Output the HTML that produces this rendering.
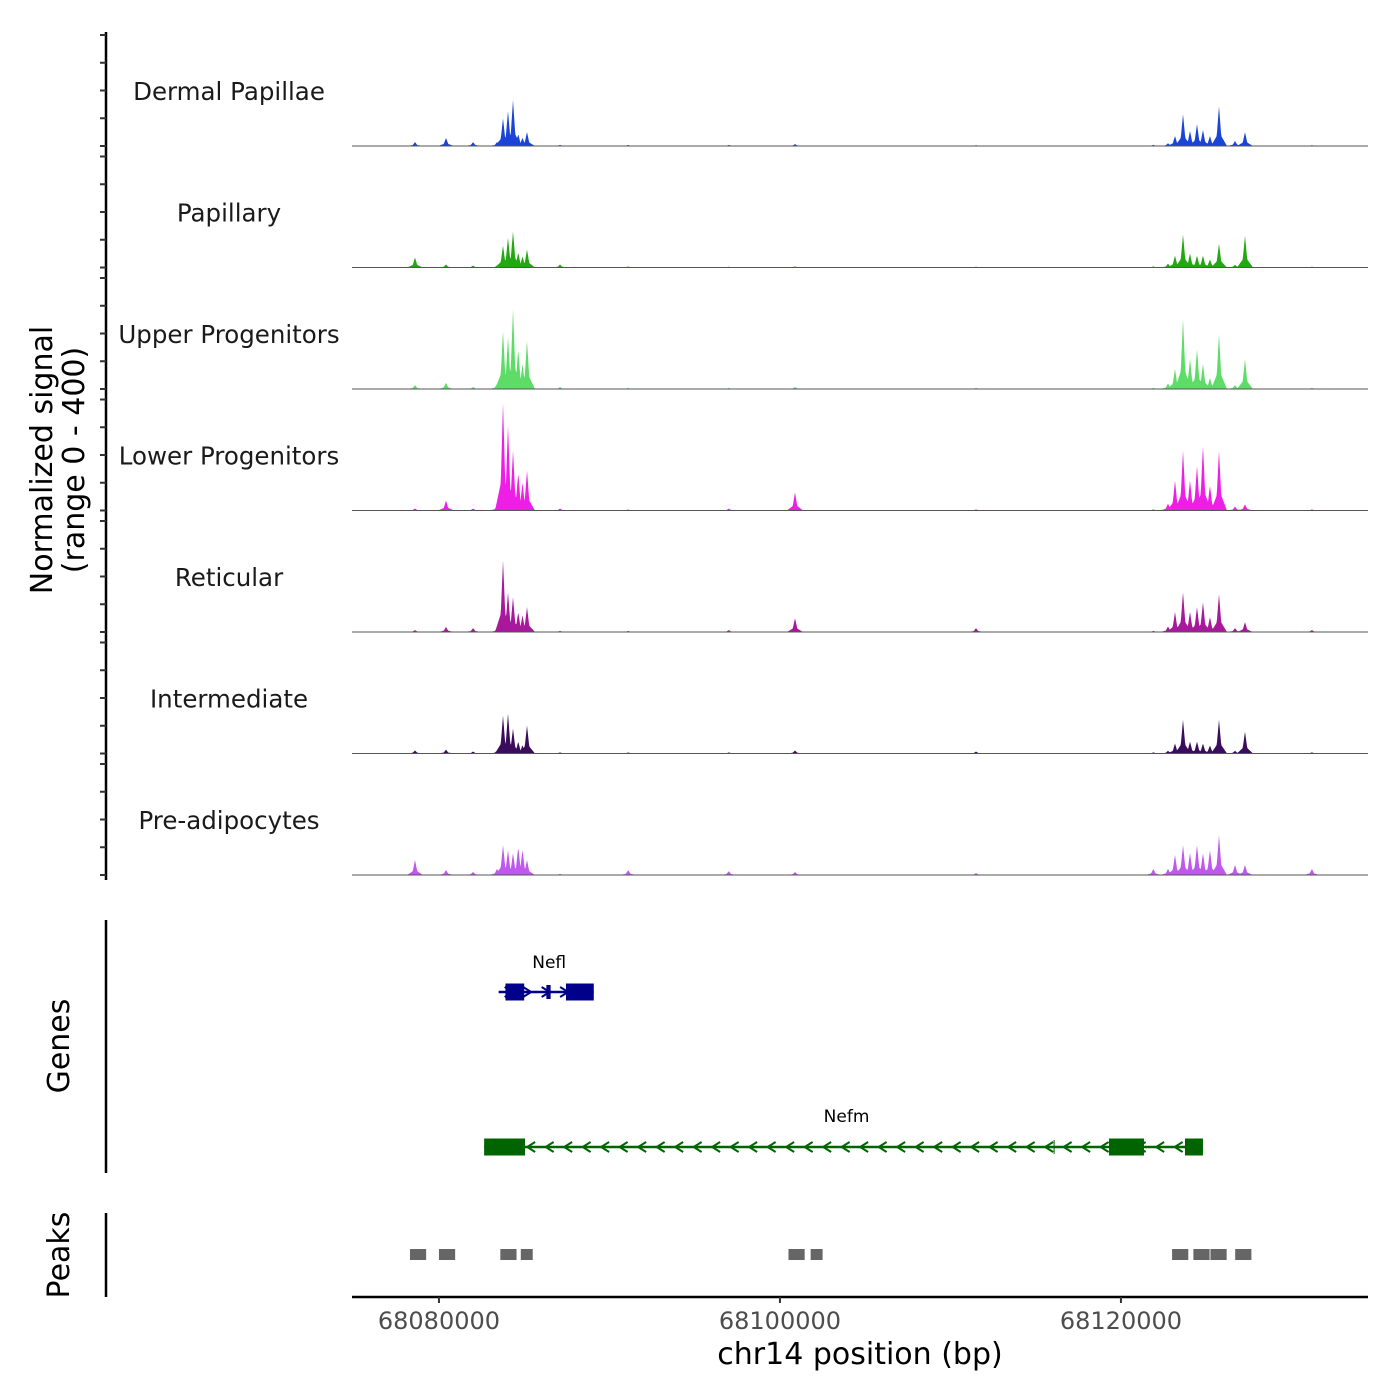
<!DOCTYPE html>
<html><head><meta charset="utf-8"><style>
body{margin:0;background:#fff}
svg{display:block;font-family:"DejaVu Sans","Liberation Sans",sans-serif}
</style></head><body>
<svg id="chart" width="1400" height="1400" viewBox="0 0 1400 1400" xmlns="http://www.w3.org/2000/svg">
<rect width="1400" height="1400" fill="#fff"/>
<g id="tracks"></g>
<g id="genes"></g>
<g id="peaks"></g>
<g id="axes"></g>
<text x="52" y="460" font-size="30" text-anchor="middle" transform="rotate(-90 52 460)">Normalized signal</text>
<text x="84" y="460" font-size="30" text-anchor="middle" transform="rotate(-90 84 460)">(range 0 - 400)</text>
<text x="69" y="1046" font-size="30" text-anchor="middle" transform="rotate(-90 69 1046)">Genes</text>
<text x="69" y="1255" font-size="30" text-anchor="middle" transform="rotate(-90 69 1255)">Peaks</text>
<text x="860" y="1364" font-size="30" text-anchor="middle">chr14 position (bp)</text>
</svg>
<script>
const trackNames = ["Dermal Papillae","Papillary","Upper Progenitors","Lower Progenitors","Reticular","Intermediate","Pre-adipocytes"];
const trackColors = ["#1a44d8","#22a810","#5ddc68","#ee1ee6","#a8189c","#3a0c5c","#c057ee"];
const peakPos = [68078595,68080413,68082000,68083405,68083757,68084050,68084343,68084650,68084900,68085164,68087100,68091100,68097000,68100883,68111500,68121900,68122760,68123170,68123640,68124050,68124460,68124810,68125220,68125750,68126690,68127275,68131200];
const sigDP  = [14,29,14,14,100,126,166,43,30,50,4,4,4,7,3,4,10,36,115,54,79,58,36,144,18,50,3];
const sigPap = [36,11,7,7,79,108,130,54,40,65,11,4,3,4,3,4,14,43,119,50,43,43,29,86,10,115,3];
const sigUp  = [14,22,7,18,209,187,288,144,90,173,7,4,4,7,4,4,20,72,252,108,144,90,40,198,14,108,4];
const sigLow = [7,36,7,18,389,306,216,137,100,144,7,4,7,65,4,4,25,108,216,108,162,234,90,216,14,22,4];
const sigRet = [7,18,14,14,259,144,126,72,60,90,4,4,7,50,14,4,20,72,144,72,90,108,54,137,14,36,7];
const sigInt = [11,14,7,11,137,144,90,43,30,101,4,4,4,11,7,4,10,36,122,43,43,36,29,122,10,79,4];
const sigPre = [54,18,11,22,108,90,79,101,90,54,4,18,14,11,7,22,22,72,108,79,108,79,90,144,36,36,22];
const allSignals = [sigDP,sigPap,sigUp,sigLow,sigRet,sigInt,sigPre];

const geneNames = ["Nefl","Nefm"];
const geneStart = [68083500,68082650];
const geneEnd   = [68089080,68124810];
const geneStrand = [1,-1];
const exonGene  = [0,0,0,1,1,1,1];
const exonStart = [68083900,68086300,68087450,68082650,68119300,68123755,68116050];
const exonEnd   = [68085000,68086550,68089080,68085050,68121350,68124810,68116100];
const exonTall  = [1,0,1,1,1,1,0];
const peakStart = [68078300,68080000,68083600,68084800,68100500,68101800,68123000,68124250,68125250,68126700];
const peakEnd   = [68079250,68080950,68084550,68085500,68101450,68102500,68123950,68125200,68126200,68127650];
const xTicks = [68080000,68100000,68120000];

const NS="http://www.w3.org/2000/svg";
const X0=352,X1=1368,D0=68074900,D1=68134490;
const xs = bp => X0 + (bp-D0)/(D1-D0)*(X1-X0);
const trackBase = i => 146 + i*121.5;
const ys = v => v*111/400;
function mk(tag,attrs,parent){const e=document.createElementNS(NS,tag);for(const k in attrs)e.setAttribute(k,attrs[k]);parent.appendChild(e);return e;}

const tg=document.getElementById('tracks');
allSignals.forEach((sig,i)=>{
  const base=trackBase(i);
  let pts=[[X0,base]];
  for(let px=X0;px<=X1;px+=0.5){
    let v=0;
    peakPos.forEach((p,k)=>{const d=Math.abs(px-xs(p));
      if(d<3)v=Math.max(v,sig[k]*(1-d/3));
      if(d<8)v=Math.max(v,sig[k]*0.35*(1-d/8));});
    pts.push([px,base-ys(v)]);
  }
  pts.push([X1,base]);
  const poly=mk('polygon',{points:pts.map(p=>p[0].toFixed(1)+','+p[1].toFixed(1)).join(' '),fill:trackColors[i]},tg);
  
  
  const ln=mk('line',{x1:X0,x2:X1,y1:base,y2:base,stroke:'#555','stroke-width':1},tg);
  
  
  const t=mk('text',{x:229,y:base-46,'font-size':24.5,'text-anchor':'middle',fill:'#1a1a1a'},tg);
  t.textContent=trackNames[i];
  
  
});

const gg=document.getElementById('genes');
const geneY=[992,1147], labelY=[968,1122];
geneNames.forEach((g,i)=>{
  const col=i===0?'#00008b':'#006400';
  const x1=xs(geneStart[i]),x2=xs(geneEnd[i]),y=geneY[i];
  const l=mk('line',{x1:x1,x2:x2,y1:y,y2:y,stroke:col,'stroke-width':2.5},gg);
  
  
  for(let x=x1+10;x<x2-4;x+=18.5){
    const d=geneStrand[i]*4;
    const a=mk('polyline',{points:`${x-d},${y-5} ${x+d},${y} ${x-d},${y+5}`,fill:'none',stroke:col,'stroke-width':2},gg);
    
    
  }
  const t=mk('text',{x:(x1+x2)/2+3,y:labelY[i],'font-size':17,'text-anchor':'middle'},gg);
  t.textContent=g;
  
  
});
exonStart.forEach((s,k)=>{
  const gi=exonGene[k],col=gi===0?'#00008b':'#006400',y=geneY[gi];
  const h=exonTall[k]?17:14;
  const r=mk('rect',{x:xs(s),y:y-h/2,width:Math.max(1,xs(exonEnd[k])-xs(s)),height:h,fill:col},gg);
  
  
});

const pg=document.getElementById('peaks');
peakStart.forEach((s,k)=>{
  const r=mk('rect',{x:xs(s),y:1249,width:xs(peakEnd[k])-xs(s),height:11,fill:'#666'},pg);
  
  
});

const ag=document.getElementById('axes');
[[32,880],[920,1173],[1213,1297]].forEach(([a,b])=>{
  const l=mk('line',{x1:106,x2:106,y1:a,y2:b,stroke:'#000','stroke-width':2.5},ag);
  
  
});
for(let i=0;i<7;i++){for(let j=0;j<5;j++){
  const y=trackBase(i)-ys(j*100);
  const l=mk('line',{x1:100,x2:106,y1:y,y2:y,stroke:'#333','stroke-width':2},ag);
  
  
}}
const xl=mk('line',{x1:X0,x2:X1,y1:1297,y2:1297,stroke:'#000','stroke-width':2.5},ag);


xTicks.forEach(v=>{
  const x=xs(v);
  const l=mk('line',{x1:x,x2:x,y1:1297,y2:1303,stroke:'#333','stroke-width':2},ag);
  
  
  const t=mk('text',{x:x,y:1329,'font-size':24,'text-anchor':'middle',fill:'#4d4d4d'},ag);
  t.textContent=v;
  
  
});
</script>
</body></html>
